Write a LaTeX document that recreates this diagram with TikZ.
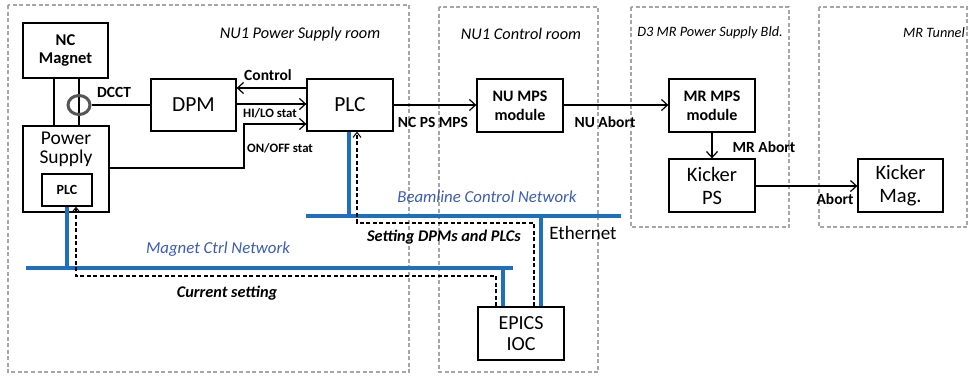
\documentclass[tikz,border=0pt]{standalone}
\usepackage{fontspec}
\setmainfont{Carlito}
\usetikzlibrary{arrows.meta,shapes.geometric}
\definecolor{netblue}{HTML}{1F6FC0}
\definecolor{txtblue}{HTML}{3A5CB2}
\definecolor{roomgray}{HTML}{A6A6A6}
\definecolor{dcctgray}{HTML}{555555}
\tikzset{
  box/.style={draw=black, line width=1.3pt, minimum width=86pt, minimum height=53pt, inner sep=0pt, align=center},
  bigtxt/.style={font=\fontsize{20.5}{23}\selectfont},
  boldtxt/.style={font=\fontsize{16}{19}\selectfont\bfseries},
  room/.style={draw=roomgray, line width=1.1pt, dash pattern=on 4pt off 2.5pt},
  roomlbl/.style={font=\fontsize{16.3}{19}\selectfont\itshape, inner sep=0pt},
  roomlbls/.style={font=\fontsize{14.3}{16}\selectfont\itshape, inner sep=0pt},
  sig/.style={draw=black, line width=1.2pt, -{Straight Barb[length=6pt,width=11pt,line width=1.2pt]}},
  wire/.style={draw=black, line width=1.2pt},
  lbl/.style={font=\fontsize{15.5}{18}\selectfont\bfseries, inner sep=0pt},
  lbls/.style={font=\fontsize{12.8}{15}\selectfont\bfseries, inner sep=0pt},
  netlbl/.style={font=\fontsize{16.8}{19}\selectfont\itshape, text=txtblue, inner sep=0pt},
  net/.style={draw=netblue, line width=4.5pt},
  setarrow/.style={draw=black, line width=1.1pt, dash pattern=on 4pt off 2.5pt, -{Straight Barb[length=5pt,width=8pt,line width=1pt]}},
  setlbl/.style={font=\fontsize{16.3}{19}\selectfont\bfseries\itshape, inner sep=0pt},
}
\begin{document}
\begin{tikzpicture}[x=1pt,y=-1pt]
\useasboundingbox (0,0) rectangle (968,376);
% rooms
\draw[room] (8,5) rectangle (409,372);
\draw[room] (439,7) rectangle (598,372);
\draw[room] (631,7) rectangle (789,227);
\draw[room] (819,7) rectangle (967,227);
\node[roomlbl] (r1) at (300,34) {NU1 Power Supply room};
\node[roomlbl] (r2) at (521,34) {NU1 Control room};
\node[roomlbls] (r3) at (710,33) {D3 MR Power Supply Bld.};
\node[roomlbls] (r4) at (934,33) {MR Tunnel};

% boxes
\node[box, font=\fontsize{16.5}{19}\selectfont\bfseries, minimum width=85pt, minimum height=55pt] (mag) at (65.5,50.5) {NC\\[-1pt]Magnet};
\node[box, minimum width=86pt, minimum height=86pt] (ps) at (66,169) {};
\node[font=\fontsize{19.5}{22}\selectfont, align=center, inner sep=0pt] (pstxt) at (66,149) {Power\\[-3pt]Supply};
\node[box, font=\fontsize{14}{16}\selectfont\bfseries, minimum width=50pt, minimum height=32pt] (psplc) at (67,190) {PLC};
\node[box, bigtxt, font=\fontsize{21.5}{24}\selectfont, minimum width=85pt, minimum height=52pt] (dpm) at (193.5,105) {DPM};
\node[box, bigtxt, font=\fontsize{21.5}{24}\selectfont, minimum height=52pt] (plc) at (350,105) {PLC};
\node[box, boldtxt, minimum height=53pt] (nump) at (520,105.5) {NU MPS\\module};
\node[box, boldtxt, minimum height=53pt] (mrmp) at (712,105.5) {MR MPS\\module};
\node[box, bigtxt, align=center] (kps) at (712,185.5) {Kicker\\PS};
\node[box, bigtxt, minimum width=85pt] (kmag) at (900.5,185.5) {Kicker\\Mag.};
\node[box, font=\fontsize{20}{21.5}\selectfont] (ioc) at (521,333.5) {EPICS\\IOC};

% magnet to power supply
\coordinate (m1) at (54,78);
\coordinate (m2) at (79,78);
\draw[wire] (mag.south -| m1) -- (ps.north -| m1);
\draw[wire] (mag.south -| m2) -- (ps.north -| m2);
\node[draw=dcctgray, line width=3pt, ellipse, minimum width=22pt, minimum height=19pt, inner sep=0pt] (dcct) at (79,105) {};
\draw[wire] (dcct.east) -- (dpm.west |- dcct.east);
\node[lbl] (dcctl) at (114,92) {DCCT};

% DPM / PLC signals
\coordinate (yc) at (0,88);
\coordinate (yh) at (0,104);
\coordinate (yo) at (0,124);
\draw[sig] (plc.west |- yc) -- (dpm.east |- yc);
\draw[sig] (dpm.east |- yh) -- (plc.west |- yh);
\coordinate (onoffa) at (244,168);
\coordinate (onoffb) at (244,124);
\draw[sig] (ps.east |- onoffa) -- (onoffa) -- (onoffb) -- (plc.west |- onoffb);
\node[lbl] (ctl) at (268,75) {Control};
\node[lbls] (hil) at (270,113) {HI/LO stat};
\node[lbls] (onl) at (280,148) {ON/OFF stat};

% MPS chain
\draw[sig] (plc.east) -- (nump.west |- plc.east);
\draw[sig] (nump.east |- plc.east) -- (mrmp.west |- plc.east);
\draw[sig] (mrmp.south) -- (kps.north);
\coordinate (ya) at (0,186);
\draw[sig] (kps.east |- ya) -- (kmag.west |- ya);
\node[lbl] (ncl) at (433,122) {NC PS MPS};
\node[lbl] (nul) at (605,122) {NU Abort};
\node[lbl] (mrl) at (764,147) {MR Abort};
\node[lbl] (abl) at (835,199) {Abort};

% networks
\coordinate (bl1) at (306,216);
\coordinate (bl2) at (621,216);
\coordinate (mc1) at (26,268);
\coordinate (mc2) at (513,268);
\draw[net] (bl1) -- (bl2);
\draw[net] (mc1) -- (mc2);
\coordinate (xp) at (349,0);
\coordinate (xe) at (541,0);
\coordinate (xm) at (503,0);
\draw[net] (plc.south -| xp) -- (bl1 -| xp);
\draw[net] (bl1 -| xe) -- (ioc.north -| xe);
\draw[net] (psplc.south) -- (mc1 -| psplc.south);
\draw[net] (mc1 -| xm) -- (ioc.north -| xm);
\node[netlbl] (bcn) at (487,197) {Beamline Control Network};
\node[netlbl] (mcn) at (218,249) {Magnet Ctrl Network};
\node[font=\fontsize{19}{21}\selectfont, inner sep=0pt] (eth) at (583,233) {Ethernet};

% settings paths
\coordinate (s1) at (534,223);
\coordinate (s2) at (357,223);
\draw[setarrow] (ioc.north -| s1) -- (s1) -- (s2) -- (plc.south -| s2);
\coordinate (c1) at (496,276);
\coordinate (c2) at (76,276);
\draw[setarrow] (ioc.north -| c1) -- (c1) -- (c2) -- (psplc.south -| c2);
\node[setlbl] (sdl) at (444,237) {Setting DPMs and PLCs};
\node[setlbl] (csl) at (227,293) {Current setting};
\end{tikzpicture}
\end{document}
